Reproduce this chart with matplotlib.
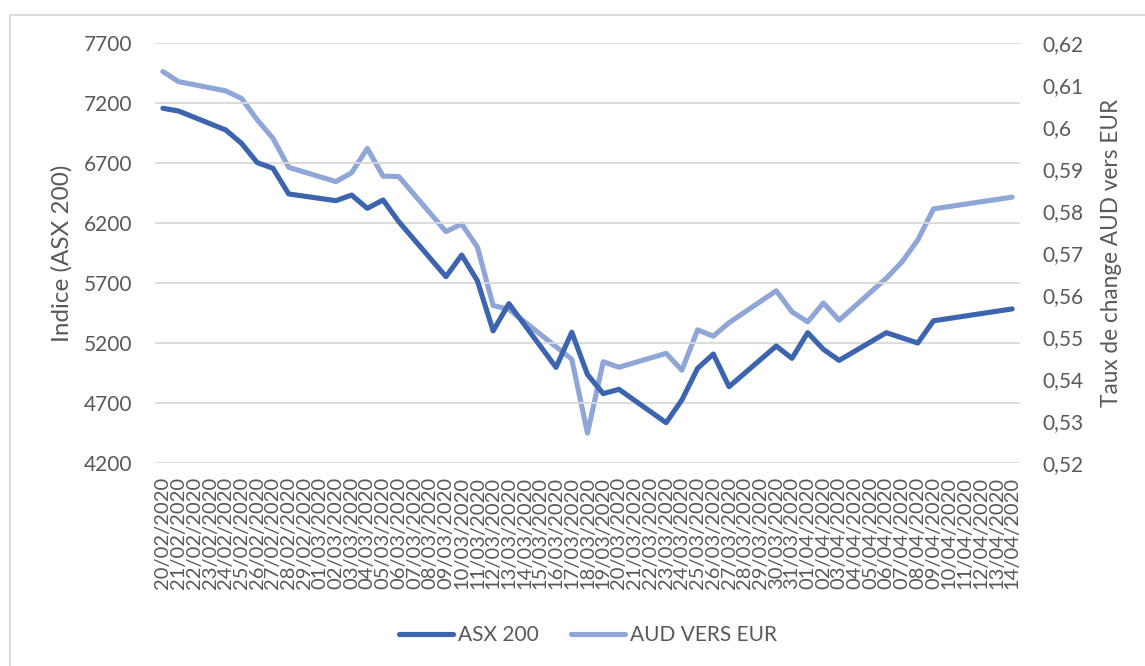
import matplotlib
matplotlib.use("Agg")
import matplotlib.pyplot as plt
from matplotlib.patches import Rectangle
import datetime as dt

plt.rcParams['font.family'] = ['Lato', 'DejaVu Sans']

# Calendar category labels (one per day)
start = dt.date(2020, 2, 20)
dates = [(start + dt.timedelta(days=k)).strftime("%d/%m/%Y") for k in range(55)]

# ASX 200 (trading days)
asx_dates = ["20/02/2020", "21/02/2020", "24/02/2020", "25/02/2020", "26/02/2020",
             "27/02/2020", "28/02/2020", "02/03/2020", "03/03/2020", "04/03/2020",
             "05/03/2020", "06/03/2020", "09/03/2020", "10/03/2020", "11/03/2020",
             "12/03/2020", "13/03/2020", "16/03/2020", "17/03/2020", "18/03/2020",
             "19/03/2020", "20/03/2020", "23/03/2020", "24/03/2020", "25/03/2020",
             "26/03/2020", "27/03/2020", "30/03/2020", "31/03/2020", "01/04/2020",
             "02/04/2020", "03/04/2020", "06/04/2020", "08/04/2020", "09/04/2020",
             "14/04/2020"]
asx_values = [7156, 7133, 6975, 6864, 6703,
              6656, 6442, 6386, 6433, 6322,
              6392, 6211, 5753, 5933, 5718,
              5301, 5528, 4997, 5290, 4937,
              4778, 4814, 4536, 4725, 4989,
              5108, 4836, 5175, 5072, 5286,
              5147, 5055, 5286, 5200, 5385,
              5484]

# AUD vers EUR
aud_dates = ["20/02/2020", "21/02/2020", "24/02/2020", "25/02/2020", "26/02/2020",
             "27/02/2020", "28/02/2020", "02/03/2020", "03/03/2020", "04/03/2020",
             "05/03/2020", "06/03/2020", "09/03/2020", "10/03/2020", "11/03/2020",
             "12/03/2020", "13/03/2020", "17/03/2020", "18/03/2020", "19/03/2020",
             "20/03/2020", "23/03/2020", "24/03/2020", "25/03/2020", "26/03/2020",
             "27/03/2020", "30/03/2020", "31/03/2020", "01/04/2020", "02/04/2020",
             "03/04/2020", "06/04/2020", "07/04/2020", "08/04/2020", "09/04/2020",
             "14/04/2020"]
aud_values = [0.6132, 0.6108, 0.6086, 0.6068, 0.6017,
              0.5973, 0.5904, 0.5870, 0.5891, 0.5949,
              0.5883, 0.5882, 0.5751, 0.5769, 0.5714,
              0.5575, 0.5566, 0.5447, 0.5271, 0.5441,
              0.5428, 0.5461, 0.5421, 0.5517, 0.5502,
              0.5534, 0.5610, 0.5560, 0.5536, 0.5581,
              0.5540, 0.5640, 0.5679, 0.5731, 0.5805,
              0.5833]

left_ticks = [4200, 4700, 5200, 5700, 6200, 6700, 7200, 7700]
right_ticks = [0.52, 0.53, 0.54, 0.55, 0.56, 0.57, 0.58, 0.59, 0.60, 0.61, 0.62]
right_labels = ["0,52", "0,53", "0,54", "0,55", "0,56", "0,57", "0,58", "0,59", "0,6", "0,61", "0,62"]

DARK = "#3D64AE"
LIGHT = "#8FA6D7"
TXT = "#595959"
GRID = "#D9D9D9"

W, H = 1145, 666
fig = plt.figure(figsize=(W / 100, H / 100), dpi=100)
fig.patches.append(Rectangle((10 / W, -0.1), 1.2, (1 - 15 / H) + 0.1, transform=fig.transFigure,
                             fill=False, edgecolor=GRID, linewidth=1.3))

ax = fig.add_axes([155 / W, 1 - 463 / H, (1020 - 155) / W, (463 - 43) / H])
ax2 = ax.twinx()

idx = {d: k for k, d in enumerate(dates)}
ax.plot([idx[d] for d in asx_dates], asx_values, color=DARK, lw=3.7,
        solid_capstyle='round', solid_joinstyle='round', label="ASX 200", zorder=3)
ax2.plot([idx[d] for d in aud_dates], aud_values, color=LIGHT, lw=3.7,
         solid_capstyle='round', solid_joinstyle='round', label="AUD VERS EUR", zorder=2)

ax.set_zorder(ax2.get_zorder() + 1)
ax.patch.set_visible(False)

ax.set_xlim(-0.5, len(dates) - 0.5)
ax.set_ylim(4200, 7700)
ax2.set_ylim(0.52, 0.62)
ax.set_yticks(left_ticks)
ax.set_yticklabels([str(v) for v in left_ticks])
ax2.set_yticks(right_ticks)
ax2.set_yticklabels(right_labels)
ax.set_xticks(range(len(dates)))
ax.set_xticklabels(dates, rotation=90, fontsize=14.5, color=TXT)

ax.grid(axis='y', color=GRID, lw=1.3)
ax.set_axisbelow(True)
for a in (ax, ax2):
    for s in a.spines.values():
        s.set_visible(False)
ax.tick_params(axis='y', length=0, pad=16, labelsize=15, labelcolor=TXT)
ax2.tick_params(axis='y', length=0, pad=16, labelsize=15, labelcolor=TXT)
ax.tick_params(axis='x', length=0, pad=10)

ax.set_ylabel("Indice (ASX 200)", fontsize=17.5, color=TXT, va='center')
ax.yaxis.set_label_coords((62 - 155) / 865, 0.5)
ax2.set_ylabel("Taux de change AUD vers EUR", fontsize=16.3, color=TXT, va='center')
ax2.yaxis.set_label_coords((1111 - 155) / 865, 0.5)

h1, l1 = ax.get_legend_handles_labels()
h2, l2 = ax2.get_legend_handles_labels()
fig.legend(h1 + h2, l1 + l2, loc='center', bbox_to_anchor=(588 / W, 1 - 635 / H), ncol=2,
           frameon=False, fontsize=15, labelcolor=TXT, handlelength=2.6,
           handletextpad=0.25, columnspacing=1.5)

fig.savefig("out.png", dpi=100)
